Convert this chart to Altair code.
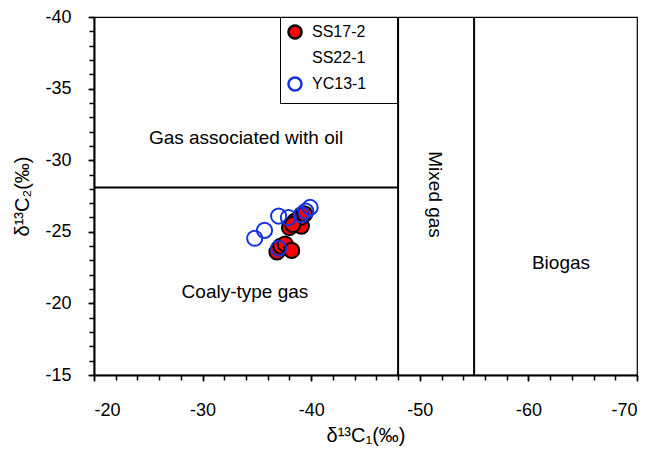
import altair as alt
import pandas as pd

# ---- data ----
series_names = ["SS17-2", "SS22-1", "YC13-1"]
series_fill = ["#ff0000", "transparent", "transparent"]
series_stroke = ["#000000", "transparent", "#1533e0"]

ss17_c1 = [-36.85, -37.2, -37.6, -38.2, -38.0, -38.5, -39.1, -39.0, -39.4, -38.3]
ss17_c2 = [-23.6, -24.0, -24.15, -23.7, -25.3, -25.75, -25.4, -26.0, -26.25, -25.5]
yc13_c1 = [-34.8, -35.7, -37.0, -37.9, -39.1, -39.5, -39.9, -37.0]
yc13_c2 = [-24.55, -25.1, -26.1, -26.0, -26.2, -26.45, -26.7, -23.85]

vline_x = [-48, -55]
vline_y1 = [-15, -15]
vline_y2 = [-40, -40]
hline_x1 = [-20]
hline_x2 = [-48]
hline_y = [-28.1]

region_labels = ["Gas associated with oil", "Coaly-type gas", "Mixed gas", "Biogas"]
region_x = [-34.0, -33.9, -51.4, -63.0]
region_y = [-31.55, -20.8, -27.6, -22.8]
region_angle = [0, 0, 90, 0]

x_major = list(range(-70, -19, 10))
x_minor = list(range(-70, -19, 2))
y_major = list(range(-40, -14, 5))
y_minor = list(range(-40, -14, 1))

FONT = "Liberation Sans"
SPACER_TITLE = "nn"  # drawn in white: only widens the legend box

# ---- tables ----
pts = pd.DataFrame(
    {"c1": ss17_c1 + yc13_c1,
     "c2": ss17_c2 + yc13_c2,
     "series": ["SS17-2"] * len(ss17_c1) + ["YC13-1"] * len(yc13_c1)}
)
vlines = pd.DataFrame({"x": vline_x, "y": vline_y1, "y2": vline_y2})
hlines = pd.DataFrame({"x": hline_x1, "x2": hline_x2, "y": hline_y})
texts = pd.DataFrame({"label": region_labels, "x": region_x, "y": region_y, "angle": region_angle})

xscale = alt.Scale(domain=[-70, -20], reverse=True, nice=False, zero=False)
yscale = alt.Scale(domain=[-40, -15], reverse=True, nice=False, zero=False)

x_major_axis = alt.Axis(
    values=x_major, orient="bottom",
    title="δ¹³C₁(‰)",
    labelExpr="toString(datum.value)",
    tickSize=6, labelPadding=20, titlePadding=6, grid=False,
)
x_minor_axis = alt.Axis(
    values=x_minor, orient="bottom", title=None,
    labels=False, domain=False, tickSize=5, grid=False,
)
y_major_axis = alt.Axis(
    values=y_major, orient="left",
    title="δ¹³C₂(‰)",
    labelExpr="toString(datum.value)",
    tickSize=6, labelPadding=17, titlePadding=12, grid=False,
)
y_minor_axis = alt.Axis(
    values=y_minor, orient="left", title=None,
    labels=False, domain=False, tickSize=5, grid=False,
)

legend_spec = dict(title=SPACER_TITLE, titleOrient="right", titlePadding=4,
                   titleFontSize=16, titleFont=FONT, titleColor="white")

vrule = alt.Chart(vlines).mark_rule(color="black", strokeWidth=2).encode(
    x=alt.X("x:Q", scale=xscale, axis=x_major_axis),
    y=alt.Y("y:Q", scale=yscale, axis=y_major_axis),
    y2="y2:Q",
)
hrule = alt.Chart(hlines).mark_rule(color="black", strokeWidth=2).encode(
    x=alt.X("x:Q", scale=xscale, axis=x_minor_axis),
    x2="x2:Q",
    y=alt.Y("y:Q", scale=yscale, axis=y_minor_axis),
)
points = alt.Chart(pts).mark_point(shape="circle", size=230, strokeWidth=2, opacity=1).encode(
    x=alt.X("c1:Q", scale=xscale, axis=None),
    y=alt.Y("c2:Q", scale=yscale, axis=None),
    fill=alt.Fill("series:N", scale=alt.Scale(domain=series_names, range=series_fill),
                  legend=alt.Legend(**legend_spec)),
    stroke=alt.Stroke("series:N", scale=alt.Scale(domain=series_names, range=series_stroke),
                      legend=alt.Legend(**legend_spec)),
)
labels = alt.Chart(texts).mark_text(font=FONT, fontSize=19, color="black").encode(
    x=alt.X("x:Q", scale=xscale, axis=None),
    y=alt.Y("y:Q", scale=yscale, axis=None),
    text="label:N",
    angle=alt.Angle("angle:Q", scale=None),
)

chart = alt.layer(vrule, hrule, points, labels).resolve_axis(
    x="independent", y="independent"
).properties(
    width=543,
    height=358,
    autosize=alt.AutoSizeParams(type="none"),
    padding={"left": 94, "top": 17, "right": 14, "bottom": 78},
).configure_view(
    stroke="black", strokeWidth=1.2
).configure_axis(
    labelFont=FONT, labelFontSize=18, labelColor="black",
    titleFont=FONT, titleFontSize=20, titleFontWeight="normal", titleColor="black",
    domainColor="black", domainWidth=2, tickColor="black", tickWidth=1.5,
).configure_legend(
    orient="none", legendX=186, legendY=0,
    strokeColor="black", fillColor="white", padding=7,
    labelFont=FONT, labelFontSize=16, labelColor="black",
    symbolSize=170, symbolStrokeWidth=2.5, symbolType="circle",
    rowPadding=2, labelOffset=9,
)

chart.save("out.html", embed_options={"renderer": "svg", "actions": False})
